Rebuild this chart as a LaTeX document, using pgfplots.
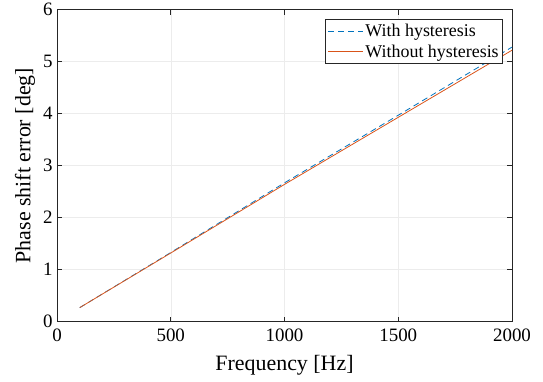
\documentclass[border=0pt]{standalone}
\usepackage{fontspec}
\setmainfont{Liberation Serif}
\usepackage{pgfplots}
\pgfplotsset{compat=1.18}
\definecolor{mblue}{rgb}{0,0.447,0.741}
\definecolor{morange}{rgb}{0.85,0.325,0.098}
\begin{document}
\begin{tikzpicture}
\begin{axis}[
  name=ax,
  scale only axis, width=455bp, height=312bp,
  xmin=0, xmax=2000, ymin=0, ymax=6,
  xtick={0,500,1000,1500,2000}, ytick={0,1,2,3,4,5,6},
  xticklabel={\pgfmathprintnumber[assume math mode=true,set thousands separator={}]{\tick}},
  yticklabel={\pgfmathprintnumber[assume math mode=true]{\tick}},
  tick align=inside, tick pos=both,
  major tick length=5bp,
  grid=major, grid style={gray!15, line width=0.5pt},
  axis line style={line width=0.6pt, black!85},
  every tick/.style={black!85, line width=0.6pt},
  ticklabel style={font=\fontsize{19}{21}\selectfont},
  xticklabel style={yshift=-4bp},
  yticklabel style={xshift=-1bp},
  xlabel={Frequency [Hz]}, ylabel={Phase shift error [deg]},
  label style={font=\fontsize{22}{24}\selectfont},
  xlabel style={yshift=-6bp},
  ylabel style={yshift=1bp},
  legend style={at={(1,1)}, xshift=-9bp, yshift=-9bp, anchor=north east, font=\fontsize{18}{19}\selectfont, draw=black!85, line width=0.6pt, inner xsep=2pt, inner ysep=3pt, row sep=3pt},
  legend cell align=left,
  legend image code/.code={\draw[#1] (0bp,0bp) -- (35bp,0bp);},
]
\addplot[mblue, dash pattern=on 6bp off 4bp, line width=0.8pt] coordinates {(100,0.27) (500,1.33) (1000,2.67) (1500,3.97) (2000,5.28)};
\addlegendentry{With hysteresis}
\addplot[morange, line width=0.8pt] coordinates {(100,0.27) (500,1.32) (1000,2.64) (1500,3.93) (2000,5.22)};
\addlegendentry{Without hysteresis}
\end{axis}
\path (ax.south west) ++(-57bp,-60bp) (ax.north east) ++(31bp,9bp);
\end{tikzpicture}
\end{document}
